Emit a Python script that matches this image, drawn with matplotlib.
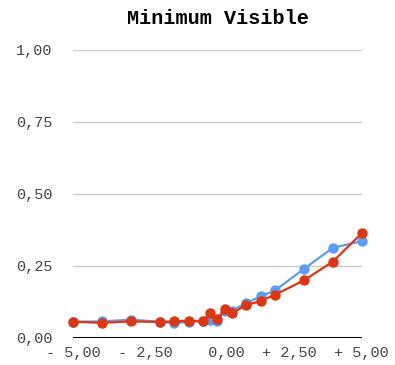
import matplotlib
matplotlib.use("Agg")
import matplotlib.pyplot as plt

# Data
x_vals = [-5, -4, -3, -2, -1.5, -1, -0.5, -0.25, 0, 0.25, 0.5, 1, 1.5, 2, 3, 4, 5]
blue_vals = [0.055, 0.056, 0.062, 0.055, 0.049, 0.055, 0.057, 0.060, 0.058,
             0.093, 0.093, 0.120, 0.143, 0.164, 0.239, 0.312, 0.335]
red_vals = [0.055, 0.051, 0.056, 0.054, 0.056, 0.059, 0.056, 0.084, 0.065,
            0.099, 0.084, 0.113, 0.127, 0.149, 0.199, 0.264, 0.363]

x_ticks = [-5, -2.5, 0, 2.5, 5]
x_tick_labels = ["- 5,00", "- 2,50", "  0,00", "+ 2,50", "+ 5,00"]
y_ticks = [0, 0.25, 0.5, 0.75, 1.0]
y_tick_labels = ["0,00", "0,25", "0,50", "0,75", "1,00"]

mono = "Liberation Mono"

fig = plt.figure(figsize=(3.95, 3.65), dpi=100)
ax = fig.add_axes([0.185, 0.0753, 0.731, 0.788])

# gridlines and baseline
for y in y_ticks[1:]:
    ax.axhline(y, color="#cccccc", lw=1, zorder=1)
ax.axhline(0, color="black", lw=2.2, zorder=2)

ax.plot(x_vals, blue_vals, color="#5b9cf6", lw=1.6, marker="o", ms=6.5,
        clip_on=False, zorder=3)
ax.plot(x_vals, red_vals, color="#dd3611", lw=1.6, marker="o", ms=6.5,
        clip_on=False, zorder=4)

ax.set_xlim(-5, 5)
ax.set_ylim(0, 1)
ax.set_xticks(x_ticks)
ax.set_xticklabels(x_tick_labels, family=mono, fontsize=11, color="#444444")
ax.set_yticks(y_ticks)
ax.set_yticklabels(y_tick_labels, family=mono, fontsize=11, color="#444444")
ax.tick_params(axis="both", length=0)
ax.tick_params(axis="y", pad=15)
ax.tick_params(axis="x", pad=6)
for s in ax.spines.values():
    s.set_visible(False)

ax.set_title("Minimum Visible", family=mono, fontweight="bold", fontsize=14.5,
             pad=19)

fig.savefig("out.png", dpi=100)
